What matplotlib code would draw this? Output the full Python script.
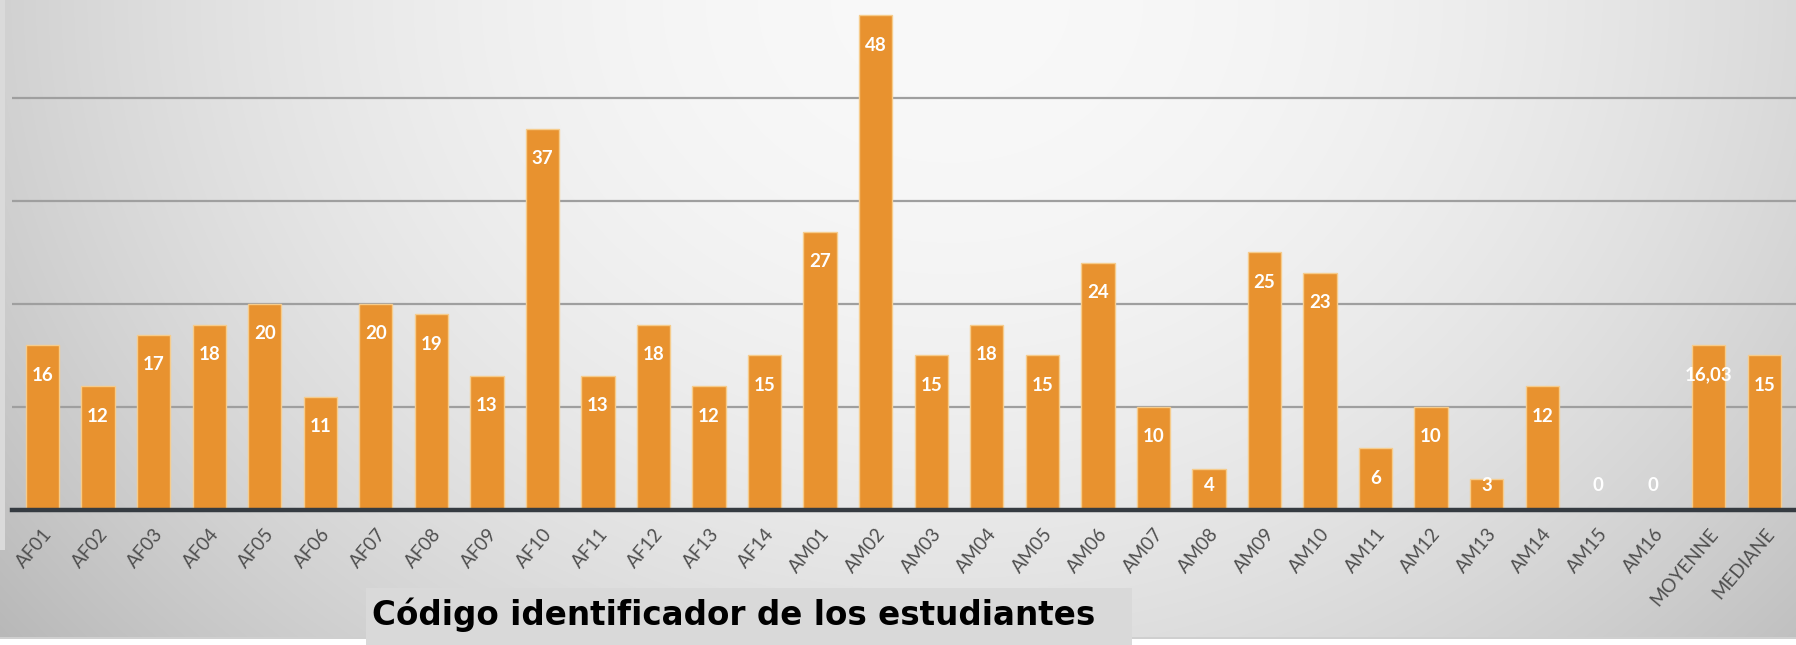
import numpy as np
import matplotlib
matplotlib.use("Agg")
import matplotlib.pyplot as plt
from matplotlib.patches import Rectangle
import matplotlib.transforms as mtransforms

categories = ["AF01", "AF02", "AF03", "AF04", "AF05", "AF06", "AF07", "AF08", "AF09", "AF10",
              "AF11", "AF12", "AF13", "AF14", "AM01", "AM02", "AM03", "AM04", "AM05", "AM06",
              "AM07", "AM08", "AM09", "AM10", "AM11", "AM12", "AM13", "AM14", "AM15", "AM16",
              "MOYENNE", "MEDIANE"]
values = [16, 12, 17, 18, 20, 11, 20, 19, 13, 37,
          13, 18, 12, 15, 27, 48, 15, 18, 15, 24,
          10, 4, 25, 23, 6, 10, 3, 12, 0, 0,
          16.03, 15]
value_labels = ["16", "12", "17", "18", "20", "11", "20", "19", "13", "37",
                "13", "18", "12", "15", "27", "48", "15", "18", "15", "24",
                "10", "4", "25", "23", "6", "10", "3", "12", "0", "0",
                "16,03", "15"]
gridlines = [10, 20, 30, 40]
xlabel_text = "Código identificador de los estudiantes"

W, H = 1796, 645
fig = plt.figure(figsize=(W / 100, H / 100), dpi=100)

# background radial gradient
bg = fig.add_axes([0, 0, 1, 1], zorder=-10)
yy, xx = np.mgrid[0:H, 0:W]
r2 = ((xx - 950) / 950.0) ** 2 + (yy / 800.0) ** 2
g = np.clip(0.975 - 0.155 * r2, 0, 1)
img = np.dstack([g, g, g])
bg.imshow(img, extent=[0, W, H, 0], aspect="auto", interpolation="bilinear")
bg.set_xlim(0, W)
bg.set_ylim(H, 0)
bg.axis("off")
bg.add_patch(Rectangle((0, 0), 5, 550, color="#dadada", lw=0))
bg.add_patch(Rectangle((0, 639), W, 6, color="#ffffff", lw=0))
bg.add_patch(Rectangle((0, 637), W, 2, color="#cfcfcf", lw=0))
bg.add_patch(Rectangle((366, 588), 1132 - 366, H - 588, color="#d9d9d9", lw=0))

ax = fig.add_axes([12 / W, (H - 510) / H, (W - 12) / W, 510 / H])
ax.patch.set_alpha(0)
x = np.arange(len(categories))
ax.bar(x, values, width=0.6, color="#E8922F", edgecolor="#F6CC8C", linewidth=1.0, zorder=3)
for yv in gridlines:
    ax.axhline(yv, color="#9f9f9f", lw=1.6, zorder=1)
ax.axhline(0, color="#353b41", lw=3.2, zorder=4, clip_on=False)

for xi, v, lab in zip(x, values, value_labels):
    ypos = max(v - 2.9, 2.4)
    ax.text(xi, ypos, lab, ha="center", va="center", color="white",
            fontsize=13.5, fontweight="bold", family="Lato", zorder=5)

ax.set_xlim(-0.55, 31.57)
ax.set_ylim(0, 49.5)
ax.set_yticks([])
ax.set_xticks(x)
ax.set_xticklabels(categories, rotation=50, ha="right", va="top",
                   rotation_mode="anchor", fontsize=13.5, color="#4f4f4f", family="Lato")
offset = mtransforms.ScaledTranslation(10 / 100, 0, fig.dpi_scale_trans)
for t in ax.get_xticklabels():
    t.set_transform(t.get_transform() + offset)
ax.tick_params(axis="x", length=0, pad=11)
for s in ax.spines.values():
    s.set_visible(False)

fig.text(372 / W, 1 - 615 / H, xlabel_text, ha="left", va="center",
         fontsize=23.5, fontweight="bold", family="DejaVu Sans", color="#000000")

fig.savefig("out.png", dpi=100)
